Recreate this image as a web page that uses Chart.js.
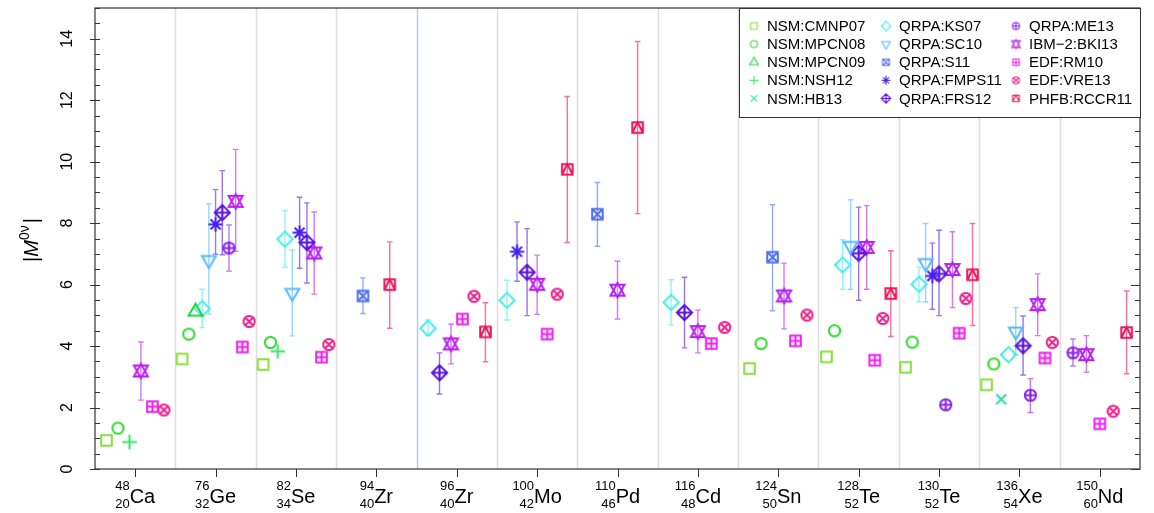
<!DOCTYPE html>
<html>
<head>
<meta charset="utf-8">
<script src="https://cdn.jsdelivr.net/npm/chart.js@4.4.1/dist/chart.umd.min.js"></script>
<style>
  body { margin: 0; background: #fff; }
</style>
</head>
<body>
<canvas id="nmeChart" width="1154" height="513"></canvas>
<script>
// isotopes along the x axis
const massNumbers   = [48, 76, 82, 94, 96, 100, 110, 116, 124, 128, 130, 136, 150];
const atomicNumbers = [20, 32, 34, 40, 40, 42, 46, 48, 50, 52, 52, 54, 60];
const elements      = ['Ca', 'Ge', 'Se', 'Zr', 'Zr', 'Mo', 'Pd', 'Cd', 'Sn', 'Te', 'Te', 'Xe', 'Nd'];

// y axis ticks
const yMajorTicks = [0, 2, 4, 6, 8, 10, 12, 14];

const methodNames = [
  'NSM:CMNP07', 'NSM:MPCN08', 'NSM:MPCN09', 'NSM:NSH12', 'NSM:HB13',
  'QRPA:KS07', 'QRPA:SC10', 'QRPA:S11', 'QRPA:FMPS11', 'QRPA:FRS12',
  'QRPA:ME13', 'IBM\u22122:BKI13', 'EDF:RM10', 'EDF:VRE13', 'PHFB:RCCR11'
];

// |M0v| per isotope, null where the method gives no value
//                 Ca    Ge    Se    Zr94  Zr96  Mo    Pd     Cd    Sn    Te128 Te130 Xe    Nd
const nsmCMNP07  = [0.93, 3.58, 3.40, null, null, null, null,  null, 3.27, 3.65, 3.31, 2.74, null];
const nsmMPCN08  = [1.33, 4.39, 4.12, null, null, null, null,  null, 4.08, 4.50, 4.13, 3.42, null];
const nsmMPCN09  = [null, 5.12, null, null, null, null, null,  null, null, null, null, null, null];
const nsmNSH12   = [0.88, null, 3.83, null, null, null, null,  null, null, null, null, null, null];
const nsmHB13    = [null, null, null, null, null, null, null,  null, null, null, null, 2.27, null];
const qrpaKS07   = [null, 5.22, 7.48, null, 4.58, 5.49, null,  5.42, null, 6.64, 6.01, 3.72, null];
const qrpaSC10   = [null, 6.80, 5.73, null, null, null, null,  null, null, 7.26, 6.70, 4.47, null];
const qrpaS11    = [null, null, null, 5.63, null, null, 8.29,  null, 6.89, null, null, null, null];
const qrpaFMPS11 = [null, 7.96, 7.69, null, null, 7.07, null,  null, null, null, 6.28, null, null];
const qrpaFRS12  = [null, 8.34, 7.37, null, 3.13, 6.40, null,  5.09, null, 7.02, 6.35, 4.01, null];
const qrpaME13   = [null, 7.19, null, null, null, null, null,  null, null, null, 2.09, 2.40, 3.78];
const ibm2BKI13  = [3.19, 8.71, 7.03, null, 4.07, 6.01, 5.82,  4.47, 5.63, 7.21, 6.49, 5.35, 3.72];
const edfRM10    = [2.03, 3.97, 3.64, null, 4.88, 4.39, null,  4.08, 4.17, 3.54, 4.42, 3.61, 1.47];
const edfVRE13   = [1.92, 4.80, 4.05, null, 5.62, 5.69, null,  4.61, 5.01, 4.90, 5.55, 4.12, 1.88];
const phfbRCCR11 = [null, null, null, 6.00, 4.46, 9.75, 11.11, null, null, 5.71, 6.32, null, 4.44];

// uncertainty ranges [low, high]
const qrpaKS07Err   = [null, [4.60, 5.85], [6.57, 8.41], null, [4.35, 4.85], [4.85, 6.14], null, [4.69, 6.16], null, [5.85, 7.46], [5.44, 6.57], null, null];
const qrpaSC10Err   = [null, [5.04, 8.63], [4.33, 7.13], null, null, null, null, null, null, [5.85, 8.76], [5.44, 7.99], [3.72, 5.25], null];
const qrpaS11Err    = [null, null, null, [5.06, 6.22], null, null, [7.25, 9.32], null, [5.15, 8.60], null, null, null, null];
const qrpaFMPS11Err = [null, [6.99, 9.09], [6.53, 8.84], null, null, [6.11, 8.04], null, null, null, null, [5.20, 7.35], null, null];
const qrpaFRS12Err  = [null, [6.97, 9.71], [6.05, 8.66], null, [2.44, 3.78], [4.99, 7.82], null, [3.94, 6.24], null, [5.49, 8.52], [4.99, 7.77], [3.06, 4.98], null];
const qrpaME13Err   = [null, [6.44, 7.94], null, null, null, null, null, null, null, null, null, [1.84, 2.94], [3.35, 4.23]];
const ibm2BKI13Err  = [[2.24, 4.13], [7.08, 10.40], [5.69, 8.36], null, [3.42, 4.71], [5.03, 6.96], [4.88, 6.76], [3.78, 5.17], [4.56, 6.70], [5.85, 8.57], [5.25, 7.72], [4.34, 6.35], [3.15, 4.34]];
const phfbRCCR11Err = [null, null, null, [4.58, 7.39], [3.49, 5.41], [7.37, 12.12], [8.31, 13.91], null, null, [4.31, 7.10], [4.67, 7.99], null, [3.10, 5.79]];

const methodValues = [nsmCMNP07, nsmMPCN08, nsmMPCN09, nsmNSH12, nsmHB13,
  qrpaKS07, qrpaSC10, qrpaS11, qrpaFMPS11, qrpaFRS12,
  qrpaME13, ibm2BKI13, edfRM10, edfVRE13, phfbRCCR11];
const methodErrors = [null, null, null, null, null,
  qrpaKS07Err, qrpaSC10Err, qrpaS11Err, qrpaFMPS11Err, qrpaFRS12Err,
  qrpaME13Err, ibm2BKI13Err, null, null, phfbRCCR11Err];

const methodColors = [
  '#86e03a', '#30dc30', '#22d838', '#33ea66', '#22dfa8',
  '#44ecec', '#55b8ff', '#4f70f0', '#4422ee', '#5a14e0',
  '#8a22ee', '#b81ff0', '#f020f0', '#f0208c', '#f01458'
];

const FONT = '"Liberation Sans", Arial, Helvetica, sans-serif';

// R-style plotting symbols pch 0..14, pre-rendered so Chart.js can use them as pointStyle
function markerCanvas(pch, color, scale, lw) {
  const size = 23;
  const c = document.createElement('canvas');
  c.width = size; c.height = size;
  const g = c.getContext('2d');
  g.translate(size / 2, size / 2);
  g.scale(scale, scale);
  g.strokeStyle = color;
  g.lineWidth = lw / scale;
  g.lineJoin = 'miter';
  const s = 5.3, r = 5.6, d = 7.6, t = 8, p = 7.2;
  const line = (x1, y1, x2, y2) => { g.moveTo(x1, y1); g.lineTo(x2, y2); };
  g.beginPath();
  switch (pch) {
    case 0: g.rect(-s, -s, 2 * s, 2 * s); break;
    case 1: g.arc(0, 0, r, 0, Math.PI * 2); break;
    case 2: g.moveTo(0, -t); g.lineTo(0.866 * t, t / 2); g.lineTo(-0.866 * t, t / 2); g.closePath(); break;
    case 3: line(-p, 0, p, 0); line(0, -p, 0, p); break;
    case 4: line(-5, -5, 5, 5); line(-5, 5, 5, -5); break;
    case 5: g.moveTo(0, -d); g.lineTo(d, 0); g.lineTo(0, d); g.lineTo(-d, 0); g.closePath(); break;
    case 6: g.moveTo(0, t); g.lineTo(0.866 * t, -t / 2); g.lineTo(-0.866 * t, -t / 2); g.closePath(); break;
    case 7: g.rect(-s, -s, 2 * s, 2 * s); line(-s, -s, s, s); line(-s, s, s, -s); break;
    case 8: line(-p, 0, p, 0); line(0, -p, 0, p); line(-5, -5, 5, 5); line(-5, 5, 5, -5); break;
    case 9: g.moveTo(0, -d); g.lineTo(d, 0); g.lineTo(0, d); g.lineTo(-d, 0); g.closePath();
            line(-d, 0, d, 0); line(0, -d, 0, d); break;
    case 10: g.arc(0, 0, r, 0, Math.PI * 2); line(-r, 0, r, 0); line(0, -r, 0, r); break;
    case 11: {
      const rr = 7.2, xc = 7, yc = 0.75 * rr;
      g.moveTo(0, -rr); g.lineTo(xc, yc); g.lineTo(-xc, yc); g.closePath();
      g.moveTo(0, rr); g.lineTo(xc, -yc); g.lineTo(-xc, -yc); g.closePath();
      break;
    }
    case 12: g.rect(-s, -s, 2 * s, 2 * s); line(-s, 0, s, 0); line(0, -s, 0, s); break;
    case 13: { const q = r * 0.707; g.arc(0, 0, r, 0, Math.PI * 2); line(-q, -q, q, q); line(-q, q, q, -q); break; }
    case 14: g.rect(-s, -s, 2 * s, 2 * s); g.moveTo(-s, s); g.lineTo(0, -s); g.lineTo(s, s); break;
  }
  g.stroke();
  return c;
}

function withAlpha(hex, a) {
  const n = parseInt(hex.slice(1), 16);
  return `rgba(${n >> 16}, ${(n >> 8) & 255}, ${n & 255}, ${a})`;
}

// methods present at each isotope, used to spread the symbols across the column
const presentAt = massNumbers.map((_, i) =>
  methodValues.map((vals, m) => (vals[i] != null ? m : -1)).filter(m => m >= 0));

const datasets = methodNames.map((name, m) => {
  const points = [];
  methodValues[m].forEach((v, i) => {
    if (v == null) return;
    const list = presentAt[i];
    const k = list.indexOf(m);
    const err = methodErrors[m] ? methodErrors[m][i] : null;
    points.push({
      x: i - 0.5 + (k + 1) / (list.length + 1),
      y: v,
      lo: err ? err[0] : null,
      hi: err ? err[1] : null
    });
  });
  return {
    label: name,
    data: points,
    pointStyle: markerCanvas(m, methodColors[m], 1, 2),
    legendStyle: markerCanvas(m, methodColors[m], 0.62, 1.1),
    pointRadius: 7,
    borderColor: methodColors[m],
    errorColor: withAlpha(methodColors[m], 0.6),
    showLine: false
  };
});

// column separators, error bars, frame, tick labels and legend
const decorations = {
  id: 'decorations',
  beforeDatasetsDraw(chart) {
    const { ctx, chartArea: a, scales: { x, y } } = chart;
    ctx.save();
    // separators between isotopes
    for (let i = 0; i < massNumbers.length - 1; i++) {
      const px = Math.round(x.getPixelForValue(i + 0.5)) + 0.5;
      ctx.strokeStyle = i === 3 ? '#b9c9ea' : '#dedede';
      ctx.lineWidth = 1.5;
      ctx.beginPath(); ctx.moveTo(px, a.top); ctx.lineTo(px, a.bottom); ctx.stroke();
    }
    // error bars
    chart.data.datasets.forEach((ds, di) => {
      const meta = chart.getDatasetMeta(di);
      ds.data.forEach((pt, j) => {
        if (pt.lo == null) return;
        const px = meta.data[j].x;
        const y1 = y.getPixelForValue(pt.lo), y2 = y.getPixelForValue(pt.hi);
        ctx.strokeStyle = ds.errorColor;
        ctx.lineWidth = 1.4;
        ctx.beginPath();
        ctx.moveTo(px, y1); ctx.lineTo(px, y2);
        ctx.moveTo(px - 2.8, y1); ctx.lineTo(px + 2.8, y1);
        ctx.moveTo(px - 2.8, y2); ctx.lineTo(px + 2.8, y2);
        ctx.stroke();
      });
    });
    ctx.restore();
  },
  afterDraw(chart) {
    const { ctx, chartArea: a, scales: { x, y } } = chart;
    ctx.save();
    // box
    ctx.strokeStyle = '#333';
    ctx.lineWidth = 1.2;
    ctx.strokeRect(a.left, a.top, a.right - a.left, a.bottom - a.top);

    // y ticks on both sides: majors every 2, minors every 0.5
    ctx.lineWidth = 1;
    ctx.beginPath();
    for (let v = 0; v <= 15; v += 0.5) {
      const py = Math.round(y.getPixelForValue(v)) + 0.5;
      const major = yMajorTicks.includes(v);
      ctx.moveTo(a.left - (major ? 5 : 0), py); ctx.lineTo(a.left + 5, py);
      ctx.moveTo(a.right - (major ? 9 : 5), py); ctx.lineTo(a.right, py);
    }
    // x ticks under each isotope
    massNumbers.forEach((_, i) => {
      const px = Math.round(x.getPixelForValue(i)) + 0.5;
      ctx.moveTo(px, a.bottom); ctx.lineTo(px, a.bottom + 8);
    });
    ctx.stroke();

    // y tick labels, rotated
    ctx.fillStyle = '#000';
    ctx.font = `16px ${FONT}`;
    ctx.textAlign = 'center';
    ctx.textBaseline = 'middle';
    yMajorTicks.forEach(v => {
      ctx.save();
      ctx.translate(68, y.getPixelForValue(v));
      ctx.rotate(-Math.PI / 2);
      ctx.fillText(String(v), 0, 0);
      ctx.restore();
    });

    // y axis title |M^0v|
    ctx.save();
    ctx.translate(31, 240);
    ctx.rotate(-Math.PI / 2);
    ctx.textAlign = 'left';
    ctx.textBaseline = 'alphabetic';
    const big = `20px ${FONT}`, ital = `italic 20px ${FONT}`, sup = `14px ${FONT}`;
    const parts = [['|', big, 0], ['M', ital, 0], ['0\u03bd', sup, -9], ['|', big, 0]];
    let total = 0;
    parts.forEach(pp => { ctx.font = pp[1]; total += ctx.measureText(pp[0]).width + (pp[0] === '|' && total > 0 ? 2 : 0); });
    let cx = -total / 2;
    parts.forEach((pp, idx) => {
      ctx.font = pp[1];
      if (idx === 3) cx += 2;
      ctx.fillText(pp[0], cx, 7 + pp[2]);
      cx += ctx.measureText(pp[0]).width;
    });
    ctx.restore();

    // isotope labels: mass number over atomic number, then the symbol
    ctx.textBaseline = 'alphabetic';
    massNumbers.forEach((A, i) => {
      const px = x.getPixelForValue(i);
      ctx.font = `13px ${FONT}`;
      const wa = ctx.measureText(String(A)).width;
      const wz = ctx.measureText(String(atomicNumbers[i])).width;
      const wn = Math.max(wa, wz);
      ctx.font = `20px ${FONT}`;
      const we = ctx.measureText(elements[i]).width;
      const left = px - (wn + we) / 2;
      ctx.textAlign = 'right';
      ctx.font = `13px ${FONT}`;
      ctx.fillText(String(A), left + wn, 490);
      ctx.fillText(String(atomicNumbers[i]), left + wn, 508);
      ctx.textAlign = 'left';
      ctx.font = `20px ${FONT}`;
      ctx.fillText(elements[i], left + wn, 503);
    });

    // legend in the top right corner, three columns of five
    const lw = 401, lh = 109;
    const lx = a.right - lw, ly = a.top;
    ctx.fillStyle = '#fff';
    ctx.fillRect(lx, ly, lw, lh);
    ctx.strokeStyle = '#333';
    ctx.lineWidth = 1;
    ctx.strokeRect(Math.round(lx) + 0.5, Math.round(ly) + 0.5, lw, lh);
    const colX = [15, 147, 277];
    ctx.font = `15px ${FONT}`;
    ctx.fillStyle = '#000';
    ctx.textAlign = 'left';
    ctx.textBaseline = 'middle';
    chart.data.datasets.forEach((ds, m) => {
      const col = Math.floor(m / 5), row = m % 5;
      const mx = lx + colX[col], my = ly + 18 + row * 18.1;
      const img = ds.legendStyle;
      ctx.drawImage(img, mx - img.width / 2, my - img.height / 2);
      ctx.fillText(ds.label, mx + 13, my + 1);
    });
    ctx.restore();
  }
};

new Chart(document.getElementById('nmeChart'), {
  type: 'scatter',
  data: { datasets },
  options: {
    responsive: false,
    animation: false,
    events: [],
    layout: { padding: { left: 95, right: 14, top: 3, bottom: 44 } },
    scales: {
      x: { type: 'linear', min: -0.5, max: 12.5, display: false },
      y: { type: 'linear', min: 0, max: 15, display: false }
    },
    plugins: {
      legend: { display: false },
      tooltip: { enabled: false }
    }
  },
  plugins: [decorations]
});
</script>
</body>
</html>
